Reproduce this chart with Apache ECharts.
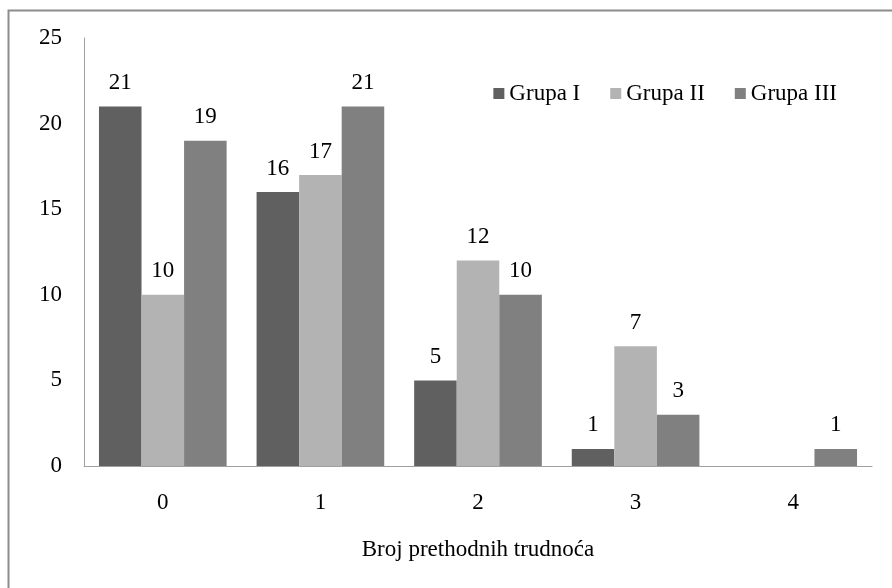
<!DOCTYPE html>
<html>
<head>
<meta charset="utf-8">
<script src="https://cdn.jsdelivr.net/npm/echarts@6/dist/echarts.min.js"></script>
<style>html,body{margin:0;padding:0;background:#fff}#c{width:892px;height:588px}</style>
</head>
<body>
<div id="c"></div>
<script>
var categories = ['0', '1', '2', '3', '4'];
var grupaI = [21, 16, 5, 1, null];
var grupaII = [10, 17, 12, 7, null];
var grupaIII = [19, 21, 10, 3, 1];
var seriesNames = ['Grupa I', 'Grupa II', 'Grupa III'];
var colors = ['#606060', '#b3b3b3', '#808080'];
var font = 'Liberation Serif';
var fs = 23;

var chart = echarts.init(document.getElementById('c'));
function mk(name, data, color) {
  return {
    name: name, type: 'bar', data: data, barGap: '0%', barCategoryGap: '19%',
    itemStyle: { color: color },
    label: { show: true, position: 'top', distance: 12, color: '#000', fontFamily: font, fontSize: fs }
  };
}
chart.setOption({
  animation: false,
  textStyle: { fontFamily: font },
  graphic: [{ type: 'rect', shape: { x: 8.5, y: 10.5, width: 1000, height: 1000 }, style: { fill: 'none', stroke: '#8c8c8c', lineWidth: 2 }, silent: true }],
  legend: {
    data: seriesNames, right: 50, top: 77, itemWidth: 11, itemHeight: 11, itemGap: 30,
    icon: 'rect', textStyle: { fontFamily: font, fontSize: fs, color: '#000' }
  },
  grid: { left: 84, right: 20, top: 38, bottom: 122 },
  xAxis: {
    type: 'category', data: categories,
    name: 'Broj prethodnih trudnoća', nameLocation: 'middle', nameGap: 72,
    nameTextStyle: { fontFamily: font, fontSize: fs, color: '#000' },
    axisLine: { lineStyle: { color: '#a0a0a0', width: 1 } },
    axisTick: { show: false },
    axisLabel: { fontFamily: font, fontSize: fs, color: '#000', margin: 25 }
  },
  yAxis: {
    type: 'value', min: 0, max: 25, interval: 5,
    axisLine: { show: true, lineStyle: { color: '#a0a0a0', width: 1 } },
    axisTick: { show: false },
    splitLine: { show: false },
    axisLabel: { fontFamily: font, fontSize: fs, color: '#000', margin: 22 }
  },
  series: [mk(seriesNames[0], grupaI, colors[0]), mk(seriesNames[1], grupaII, colors[1]), mk(seriesNames[2], grupaIII, colors[2])]
});
</script>
</body>
</html>
